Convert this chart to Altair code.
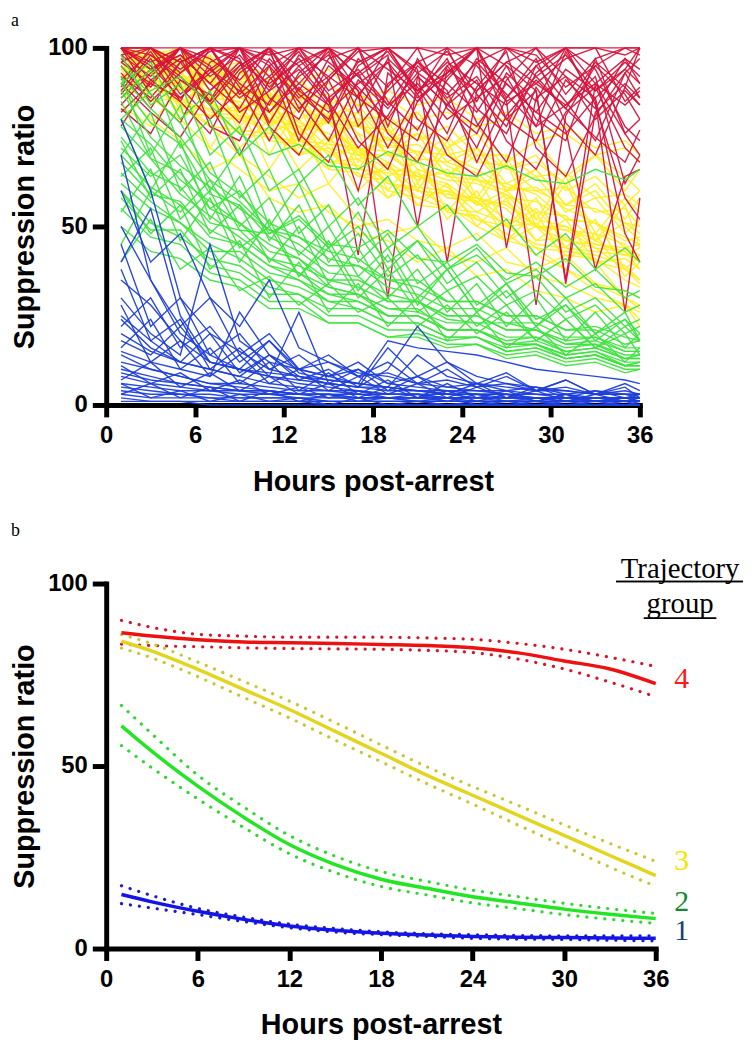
import altair as alt
import pandas as pd

# ---------------- Panel a: individual trajectories ----------------
HOURS_A = [1, 3, 5, 7, 9, 11, 13, 15, 17, 19, 21, 23, 25, 27, 29, 31, 33, 35, 36]

RED_LINES = [
    [100,100,100,100,100,100,100,100,100,100,100,100,100,100,100,100,100,100,100],
    [98,92,100,88,95,100,90,84,96,100,88,93,100,86,95,100,90,97,94],
    [90,82,75,88,96,78,70,86,93,76,68,84,91,74,66,82,89,72,68],
    [100,95,86,93,100,82,90,99,78,88,96,100,83,76,93,100,84,58,52],
    [84,93,100,78,74,91,99,85,72,81,95,88,68,86,97,79,70,89,84],
    [96,100,89,80,88,100,76,68,87,96,80,74,89,99,72,64,81,93,86],
    [100,87,79,96,100,92,82,97,100,85,77,91,100,95,80,74,97,100,98],
    [78,91,97,84,70,85,95,100,88,72,87,97,79,68,89,77,38,64,66],
    [93,83,96,100,89,74,89,79,95,100,87,70,64,81,91,83,75,68,77],
    [100,100,93,99,100,95,100,91,99,100,93,87,96,100,98,89,95,100,100],
    [87,97,85,76,93,99,83,91,74,66,85,93,100,85,28,81,95,87,80],
    [97,89,100,95,82,88,100,96,89,80,74,95,85,100,92,83,96,89,100],
    [100,91,85,100,97,79,93,100,82,97,89,76,96,87,78,99,85,26,58],
    [83,76,91,85,95,100,87,80,97,89,100,83,76,93,85,100,94,78,74],
    [100,98,91,87,79,95,85,74,91,83,93,99,87,78,95,85,74,93,97],
    [89,100,96,85,100,89,97,87,42,93,85,95,100,80,74,91,83,97,90],
    [95,85,93,100,87,95,74,91,100,78,97,85,72,91,100,87,97,76,70],
    [100,94,100,97,91,100,95,85,93,99,87,100,95,85,90,97,100,85,89],
    [91,99,87,94,100,86,80,95,88,30,92,84,97,90,82,94,88,96,92],
    [86,94,98,90,83,97,88,100,92,84,96,90,82,95,88,35,90,84,88],
    [100,96,100,92,98,88,94,84,60,90,96,86,92,80,88,34,82,90,86],
    [92,86,96,100,90,84,98,92,86,100,94,40,88,96,90,84,92,62,70],
    [100,100,96,100,100,98,100,100,96,100,100,98,100,100,96,100,100,98,100],
    [88,98,92,84,94,100,88,82,90,96,86,92,100,44,86,92,80,88,84],
    [96,90,86,94,88,82,92,98,86,80,92,84,78,90,82,76,86,48,40],
    [100,94,98,90,100,96,86,92,100,94,88,96,90,84,92,98,88,94,100],
    [82,90,100,94,86,92,100,88,94,84,90,80,86,92,78,84,90,76,80],
    [98,100,94,100,96,90,96,100,92,98,50,94,88,96,100,92,86,94,90],
]

YELLOW_LINES = [
    [100,97,95,90,89,86,84,79,78,73,71,70,66,61,60,56,55,51,50],
    [96,88,93,84,82,76,80,72,70,64,68,58,58,52,50,46,44,38,42],
    [100,100,95,94,88,86,80,84,76,72,73,67,63,60,61,55,51,47,45],
    [92,95,86,81,84,74,73,68,67,60,58,60,52,50,45,44,40,38,35],
    [98,90,97,88,87,86,79,76,72,68,63,66,58,56,50,50,45,43,40],
    [100,97,88,94,86,82,76,80,70,70,64,62,56,60,52,50,46,42,44],
    [90,85,86,78,77,76,73,66,65,58,62,54,53,46,50,42,41,35,33],
    [100,100,97,96,91,94,86,87,80,81,74,78,70,70,64,65,58,59,56],
    [94,99,89,87,86,83,74,73,72,67,60,59,58,55,46,47,40,41,38],
    [100,93,93,86,85,78,83,74,71,66,65,58,57,50,55,46,45,44,42],
    [96,100,92,91,82,87,78,79,70,75,66,63,62,59,54,53,46,51,48],
    [88,93,84,83,76,75,74,71,64,63,56,55,54,51,44,43,42,39,35],
    [100,95,100,90,91,82,87,80,79,70,71,64,63,62,59,52,51,44,45],
    [92,87,91,82,81,80,75,68,69,62,61,60,57,50,51,44,43,42,41],
    [98,100,90,97,86,85,76,81,72,71,64,65,56,57,50,49,44,43,38],
    [100,93,97,86,93,84,83,74,79,70,69,68,65,58,57,52,51,46,47],
    [86,91,82,81,80,77,70,75,66,65,64,61,54,59,50,49,48,45,40],
    [100,98,93,97,88,87,86,83,78,77,70,75,68,67,60,61,54,55,50],
    [95,90,92,85,80,82,70,72,64,66,58,55,52,48,42,38,34,30,27],
    [99,96,90,92,84,80,78,70,72,62,60,56,50,46,44,38,32,28,26],
    [100,92,98,85,90,78,86,74,80,70,76,64,72,60,66,56,62,52,58],
    [90,100,82,94,76,88,70,82,66,78,60,72,56,68,50,62,46,56,44],
    [100,96,100,90,96,84,92,80,86,76,82,72,78,68,74,64,70,60,66],
    [84,78,90,72,84,66,78,62,72,58,66,52,60,46,54,40,48,36,40],
    [96,100,88,98,80,92,74,86,68,80,62,74,58,70,52,64,48,58,54],
    [100,88,94,80,90,70,84,66,76,60,70,54,64,50,58,44,52,38,34],
    [92,98,84,92,78,86,72,80,82,74,76,70,72,66,68,62,70,64,60],
    [100,100,96,92,94,86,88,80,84,74,78,68,72,62,66,56,60,50,46],
    [88,94,80,86,72,80,66,74,60,68,56,62,50,58,46,52,40,30,28],
    [98,90,100,84,94,80,88,74,82,70,76,64,70,60,64,54,58,48,52],
    [94,86,80,72,66,60,62,54,50,52,46,44,48,40,38,42,34,32,30],
    [100,90,84,78,70,64,58,62,52,48,50,42,40,44,36,34,30,28,24],
    [88,80,74,66,70,58,54,56,48,46,40,44,36,38,32,30,26,28,22],
    [100,98,100,94,96,92,90,94,86,88,84,86,80,82,76,78,72,74,70],
    [96,100,94,98,90,94,88,90,84,86,80,82,78,80,74,76,70,72,68],
    [100,94,88,96,82,90,76,84,88,78,82,72,76,66,70,60,64,56,60],
]

GREEN_LINES = [
    [90,79,73,59,56,47,43,37,36,29,29,24,23,23,21,17,17,14,14],
    [70,61,56,49,45,39,37,31,31,25,25,21,21,17,18,15,16,13,13],
    [85,69,65,55,51,45,41,35,35,31,29,25,25,21,21,18,19,15,15],
    [60,51,47,41,39,33,31,27,27,23,23,19,19,15,16,13,14,11,12],
    [95,87,79,65,59,51,47,43,41,35,35,29,29,25,25,21,21,17,18],
    [55,47,45,37,35,29,29,23,23,19,20,17,17,13,14,11,12,9,10],
    [80,73,63,57,51,43,41,33,31,27,27,21,21,17,17,14,15,11,12],
    [65,57,51,45,41,35,33,29,27,23,23,19,19,16,17,13,14,11,11],
    [75,65,61,51,49,41,39,35,33,29,29,25,25,21,21,17,18,15,15],
    [50,43,41,35,33,27,27,23,23,19,19,16,17,14,15,12,13,10,10],
    [88,75,67,61,55,49,45,39,39,33,31,27,27,23,23,19,19,16,16],
    [68,59,57,47,45,39,35,31,29,25,25,21,21,17,17,14,15,12,12],
    [78,69,59,53,47,41,37,33,31,27,26,23,23,19,19,16,17,13,14],
    [58,49,49,39,37,31,31,25,25,21,21,18,19,15,16,13,14,11,11],
    [92,83,75,63,57,49,47,41,39,35,33,29,29,25,25,21,22,19,18],
    [62,55,51,43,43,37,35,29,29,25,25,21,21,18,19,15,16,13,13],
    [80,88,92,84,76,70,73,67,66,71,68,65,64,67,63,62,66,63,66],
    [45,60,54,63,49,48,53,45,44,49,41,40,45,37,36,41,33,32,30],
    [72,64,70,55,60,48,52,44,50,40,46,38,42,35,40,33,38,30,32],
    [40,52,38,44,32,36,28,34,26,30,22,28,20,26,18,24,16,22,18],
    [92,70,84,60,72,50,62,44,54,38,46,34,40,30,36,26,30,22,24],
    [86,94,72,80,58,66,48,56,40,48,34,40,28,34,24,28,20,24,18],
    [70,82,60,68,50,58,42,50,36,44,30,38,26,32,22,28,18,24,20],
    [98,84,90,70,78,60,66,50,58,44,50,38,44,34,38,30,34,26,28],
    [64,72,52,60,44,50,36,44,30,38,26,32,22,28,18,24,16,20,14],
    [80,60,74,52,64,46,56,40,48,36,42,32,36,28,32,24,28,20,22],
    [54,66,46,58,40,52,36,46,32,42,28,38,26,34,22,30,20,26,18],
    [90,96,80,88,70,78,62,70,56,64,50,56,46,52,42,48,38,44,40],
    [74,58,66,48,56,40,50,34,44,30,38,26,34,22,30,18,26,16,20],
    [60,48,56,38,46,30,40,26,34,22,30,18,26,16,22,14,20,12,16],
]

BLUE_LINES = [
    [80,60,30,20,15,10,8,6,5,5,4,3,3,2,2,2,1,1,1],
    [40,55,25,12,10,8,6,5,4,3,3,2,2,2,2,1,1,1,1],
    [20,15,12,10,8,6,5,4,4,3,3,3,2,2,2,2,1,1,1],
    [10,8,6,5,4,4,3,3,2,2,2,2,1,1,1,1,1,1,1],
    [5,4,3,3,2,2,2,1,1,1,1,1,1,1,1,0,0,0,0],
    [30,20,14,45,18,12,10,8,6,5,4,4,3,3,2,2,2,2,2],
    [15,12,10,8,26,14,10,8,12,6,5,4,4,3,3,2,2,2,2],
    [8,6,5,4,4,3,3,2,2,2,2,1,1,1,1,1,1,1,1],
    [3,2,2,2,1,1,1,1,1,1,1,0,0,0,0,0,0,0,0],
    [25,18,12,10,8,14,8,6,5,10,22,12,8,6,5,4,3,3,2],
    [12,10,8,6,6,5,4,4,3,3,3,2,2,2,2,2,2,1,1],
    [6,5,4,4,3,3,2,2,2,2,1,1,1,1,1,1,1,1,1],
    [2,1,1,1,1,1,1,0,0,0,0,0,0,0,0,0,0,0,0],
    [50,35,20,14,10,8,7,6,5,4,4,3,3,3,2,2,2,2,2],
    [18,14,22,12,10,18,9,7,6,5,14,8,6,5,4,4,3,3,3],
    [4,3,3,2,2,2,2,1,1,1,1,1,1,1,1,1,1,1,1],
    [35,28,18,12,10,9,8,7,6,18,16,15,14,12,10,9,8,7,6],
    [9,7,6,5,4,4,3,3,3,2,2,2,2,2,2,1,1,1,1],
    [1,1,1,0,0,0,0,0,0,0,0,0,0,0,0,0,0,0,0],
    [14,10,8,6,5,4,3,3,2,2,2,2,2,1,1,1,1,1,1],
    [60,40,48,30,22,35,16,12,9,8,6,5,4,4,3,3,2,2,2],
    [7,12,5,9,4,8,3,6,2,5,2,4,1,3,1,3,1,2,1],
    [28,12,18,8,14,6,10,4,8,3,6,2,5,2,4,1,3,1,2],
    [45,22,30,14,20,10,14,8,10,6,8,5,6,4,5,3,4,3,3],
    [16,24,10,16,6,12,4,9,3,7,2,6,2,4,1,3,1,2,1],
    [3,6,2,5,1,4,1,3,1,2,1,2,0,1,0,1,0,1,0],
    [22,30,16,22,12,18,10,14,8,12,6,10,5,8,4,7,3,6,4],
    [70,35,22,30,14,20,10,12,8,9,6,7,5,6,4,5,3,4,3],
    [11,6,9,4,7,3,5,2,4,2,3,1,3,1,2,1,2,1,1],
    [38,18,24,10,16,8,26,6,10,4,8,3,6,2,5,2,4,2,3],
    [6,2,4,1,3,1,2,0,2,0,1,0,1,0,1,0,1,0,1],
    [24,16,12,20,9,14,7,10,5,16,8,12,6,9,4,7,3,5,2],
]

# ---------------- Panel b: group trajectories with CIs ----------------
HOURS_B = [1, 3, 6, 9, 12, 15, 18, 21, 24, 27, 30, 33, 36]

G4_MEAN = [86.5, 85.6, 84.6, 84.0, 83.8, 83.6, 83.3, 83.0, 82.4, 81.0, 78.8, 76.6, 72.6]
G4_UP   = [89.9, 88.0, 86.1, 85.6, 85.3, 85.3, 85.3, 85.1, 84.7, 83.6, 82.0, 79.8, 77.3]
G4_LO   = [83.4, 83.0, 82.7, 82.4, 82.2, 82.1, 82.0, 81.7, 81.1, 79.3, 76.6, 73.0, 69.0]

G3_MEAN = [84.2, 81.5, 76.5, 71.0, 65.5, 59.5, 53.5, 47.5, 42.0, 36.5, 31.0, 25.5, 20.0]
G3_UP   = [86.0, 83.5, 78.5, 73.2, 67.8, 61.9, 55.8, 49.8, 44.4, 39.2, 33.9, 28.8, 23.9]
G3_LO   = [82.3, 79.6, 74.5, 68.8, 63.2, 57.1, 51.2, 45.2, 39.6, 33.8, 28.1, 22.3, 17.1]

G2_MEAN = [61.0, 54.0, 44.5, 36.0, 28.5, 23.0, 19.0, 16.5, 14.2, 12.5, 10.8, 9.4, 8.2]
G2_UP   = [66.6, 58.8, 47.5, 38.8, 31.0, 25.3, 21.1, 18.4, 16.0, 14.2, 12.4, 10.9, 9.6]
G2_LO   = [55.6, 49.5, 41.0, 33.2, 26.0, 20.8, 17.0, 14.7, 12.5, 10.9, 9.3, 8.0, 6.9]

G1_MEAN = [14.8, 12.8, 10.2, 8.0, 6.2, 5.0, 4.2, 3.7, 3.3, 3.1, 3.0, 2.9, 2.8]
G1_UP   = [17.2, 14.5, 11.0, 8.6, 6.7, 5.5, 4.6, 4.1, 3.8, 3.6, 3.5, 3.5, 3.5]
G1_LO   = [12.3, 11.1, 9.3, 7.4, 5.7, 4.5, 3.8, 3.3, 2.8, 2.6, 2.5, 2.3, 2.1]

GROUPS = ["1", "2", "3", "4"]
MEAN_COLORS = ["#1414e6", "#22e622", "#e3d41e", "#ee1111"]
DOT_COLORS = ["#1a1ad0", "#2ed82e", "#c9c634", "#d81428"]

LABEL_TEXT = ["4", "3", "2", "1"]
LABEL_X = [37.7, 37.7, 37.7, 37.7]
LABEL_Y = [73.9, 23.9, 12.8, 4.9]
LABEL_COLOR = ["#ff1a1a", "#f2e600", "#128a2a", "#1c3f73"]

HEADER_TEXT = ["Trajectory", "group"]
HEADER_X = [37.6, 37.6]
HEADER_Y = [101.6, 91.8]

X_TICKS = [0, 6, 12, 18, 24, 30, 36]
Y_TICKS = [0, 50, 100]

# ---------------- build tables ----------------
def long_lines(lines, group):
    rows = []
    for i, vals in enumerate(lines):
        for h, v in zip(HOURS_A, vals):
            rows.append({"hour": h, "value": v, "id": f"{group}-{i}"})
    return pd.DataFrame(rows)

df_red = long_lines(RED_LINES, "4")
df_yel = long_lines(YELLOW_LINES, "3")
df_grn = long_lines(GREEN_LINES, "2")
df_blu = long_lines(BLUE_LINES, "1")

rows_mean, rows_ci = [], []
for g, m, u, l in [("4", G4_MEAN, G4_UP, G4_LO), ("3", G3_MEAN, G3_UP, G3_LO),
                   ("2", G2_MEAN, G2_UP, G2_LO), ("1", G1_MEAN, G1_UP, G1_LO)]:
    for h, a, b, c in zip(HOURS_B, m, u, l):
        rows_mean.append({"hour": h, "value": a, "group": g})
        rows_ci.append({"hour": h, "value": b, "group": g, "series": g + "up"})
        rows_ci.append({"hour": h, "value": c, "group": g, "series": g + "lo"})
df_mean = pd.DataFrame(rows_mean)
df_ci = pd.DataFrame(rows_ci)
df_labels = pd.DataFrame({"label": LABEL_TEXT, "hour": LABEL_X, "value": LABEL_Y, "color": LABEL_COLOR})
df_header = pd.DataFrame({"label": HEADER_TEXT, "hour": HEADER_X, "value": HEADER_Y})

# ---------------- encodings ----------------
def x_enc():
    return alt.X("hour:Q", scale=alt.Scale(domain=[0, 36], nice=False, zero=False),
                 axis=alt.Axis(values=X_TICKS, title="Hours post-arrest", tickSize=12,
                               labelPadding=7, titlePadding=20, labelFlush=False,
                               format="d"))

def y_enc():
    return alt.Y("value:Q", scale=alt.Scale(domain=[0, 100], nice=False),
                 axis=alt.Axis(values=Y_TICKS, title="Suppression ratio", tickSize=14,
                               labelPadding=5, titlePadding=8, format="d"))

def spaghetti(df, color):
    return alt.Chart(df).mark_line(color=color, strokeWidth=1.4, opacity=0.95).encode(
        x=x_enc(), y=y_enc(), detail="id:N")

panel_a = alt.layer(
    spaghetti(df_yel, "#ffee22"),
    spaghetti(df_red, "#d6143c"),
    spaghetti(df_grn, "#3fe33f"),
    spaghetti(df_blu, "#1f3fd8"),
).properties(
    width=538, height=360,
    title=alt.TitleParams("a", anchor="start", frame="bounds", font="Liberation Serif",
                          fontSize=18, fontWeight="normal", color="black", offset=6),
)

mean_lines = alt.Chart(df_mean).mark_line(strokeWidth=3.5, interpolate="monotone").encode(
    x=x_enc(), y=y_enc(),
    color=alt.Color("group:N", scale=alt.Scale(domain=GROUPS, range=MEAN_COLORS), legend=None),
)
ci_lines = alt.Chart(df_ci).mark_line(strokeWidth=3.2, strokeDash=[0.1, 9], strokeCap="round",
                                       interpolate="monotone").encode(
    x=x_enc(), y=y_enc(),
    color=alt.Color("group:N", scale=alt.Scale(domain=GROUPS, range=DOT_COLORS), legend=None),
    detail="series:N",
)
num_labels = alt.Chart(df_labels).mark_text(font="Liberation Serif", fontSize=30,
                                            align="center", baseline="middle").encode(
    x="hour:Q", y="value:Q", text="label:N", color=alt.Color("color:N", scale=None))
header = alt.Chart(df_header).mark_text(font="Liberation Serif", fontSize=29, color="black",
                                        align="center", baseline="alphabetic").encode(
    x="hour:Q", y="value:Q", text="label:N")
underline1 = alt.Chart(df_header).mark_rule(color="black", strokeWidth=1.5).encode(
    x=alt.value(514), x2=alt.value(642), y=alt.value(-2))
underline2 = alt.Chart(df_header).mark_rule(color="black", strokeWidth=1.5).encode(
    x=alt.value(542), x2=alt.value(615), y=alt.value(35))

panel_b = alt.layer(ci_lines, mean_lines, num_labels, header, underline1, underline2).resolve_scale(
    color="independent"
).properties(
    width=554, height=368,
    title=alt.TitleParams("b", anchor="start", frame="bounds", font="Liberation Serif",
                          fontSize=18, fontWeight="normal", color="black", offset=15),
)

chart = alt.vconcat(panel_a, panel_b, spacing=26).properties(
    padding={"left": 2, "top": 0, "right": 0, "bottom": 0}
).configure_view(
    stroke=None
).configure_axis(
    domainColor="black", domainWidth=5, domainCap="square",
    tickColor="black", tickWidth=5, grid=False,
    labelFont="Liberation Sans", labelFontSize=24, labelFontWeight="bold", labelColor="black",
    titleFont="Liberation Sans", titleFontSize=29, titleFontWeight="bold", titleColor="black",
)

chart.save("out.html", embed_options={"renderer": "svg", "actions": False})
